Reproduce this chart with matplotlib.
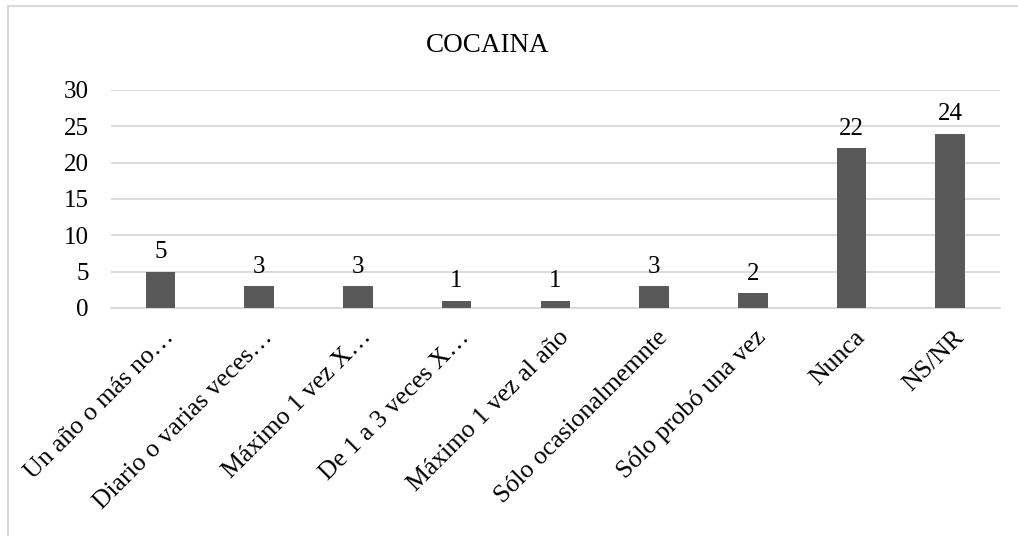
import matplotlib.pyplot as plt
from matplotlib.lines import Line2D
from matplotlib.transforms import ScaledTranslation

# data
categorias = ["Un año o más no…", "Diario o varias veces…", "Máximo 1 vez X…",
              "De 1 a 3 veces X…", "Máximo 1 vez al año", "Sólo ocasionalmemnte",
              "Sólo probó una vez", "Nunca", "NS/NR"]
valores = [5, 3, 3, 1, 1, 3, 2, 22, 24]
y_ticks = [0, 5, 10, 15, 20, 25, 30]

plt.rcParams['font.family'] = ['Liberation Serif', 'DejaVu Serif']

fig = plt.figure(figsize=(10.18, 5.36), dpi=100)
ax = fig.add_axes([0.109, 0.4254, 0.873, 0.4067])

x = list(range(len(categorias)))
bars = ax.bar(x, valores, width=0.30, color='#595959', zorder=3)
for b, v in zip(bars, valores):
    ax.annotate(str(v), (b.get_x() + b.get_width() / 2, v), xytext=(0, 6),
                textcoords='offset points', ha='center', va='bottom', fontsize=18)

ax.set_xlim(-0.5, len(categorias) - 0.5)
ax.set_ylim(0, 30)
ax.set_yticks(y_ticks)
ax.yaxis.grid(True, color='#d9d9d9', linewidth=1.3, zorder=0)
ax.tick_params(axis='y', length=0, labelsize=18, pad=16)
ax.set_xticks(x)
ax.set_xticklabels([])
ax.tick_params(axis='x', length=0)

# rotated category labels, right end hooked under each bar
off = ScaledTranslation(10 / 100, -26 / 100, fig.dpi_scale_trans)
for xi, cat in zip(x, categorias):
    ax.text(xi, 0, cat, transform=ax.get_xaxis_transform() + off,
            rotation=45, rotation_mode='anchor', ha='right', va='center',
            fontsize=18.5)

for s in ['top', 'right', 'left']:
    ax.spines[s].set_visible(False)
ax.spines['bottom'].set_color('#d9d9d9')
ax.spines['bottom'].set_linewidth(1.3)

fig.text(0.479, 0.916, "COCAINA", ha='center', va='center', fontsize=19.5)

# chart border (only left and top visible in the crop)
fig.lines.append(Line2D([0.008, 0.008], [0, 0.989], transform=fig.transFigure,
                        color='#d9d9d9', linewidth=1.5))
fig.lines.append(Line2D([0.008, 1.0], [0.989, 0.989], transform=fig.transFigure,
                        color='#d9d9d9', linewidth=1.5))

fig.savefig("out.png", dpi=100)
